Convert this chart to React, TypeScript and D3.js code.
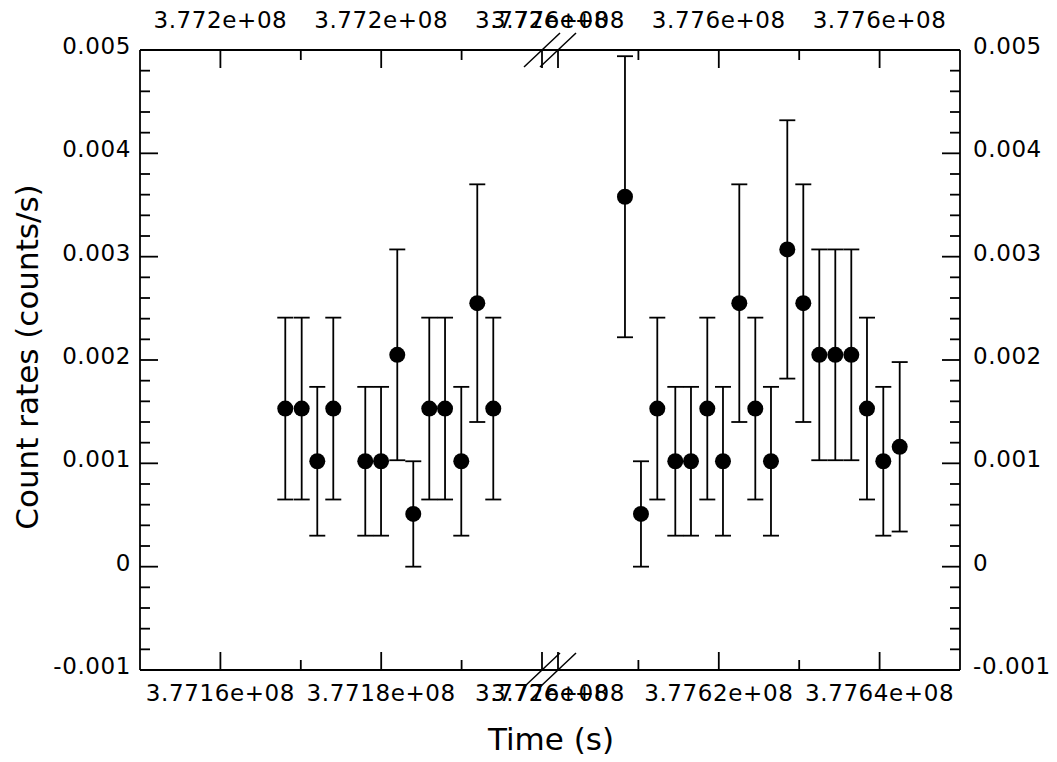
import React from "react";
import * as d3 from "d3";

const leftTimes = [377168070, 377170110, 377172050, 377174040, 377178020, 377179980, 377182000, 377183990, 377185980, 377187940, 377189960, 377191950, 377193940];
const leftRates = [0.00153, 0.00153, 0.00102, 0.00153, 0.00102, 0.00102, 0.00205, 0.00051, 0.00153, 0.00153, 0.00102, 0.00255, 0.00153];
const leftErrs = [0.00088, 0.00088, 0.00072, 0.00088, 0.00072, 0.00072, 0.00102, 0.00051, 0.00088, 0.00088, 0.00072, 0.00115, 0.00088];

const rightTimes = [377608330, 377610320, 377612350, 377614590, 377616540, 377618570, 377620520, 377622550, 377624540, 377626490, 377628520, 377630510, 377632500, 377634490, 377636480, 377638430, 377640460, 377642500];
const rightRates = [0.00358, 0.00051, 0.00153, 0.00102, 0.00102, 0.00153, 0.00102, 0.00255, 0.00153, 0.00102, 0.00307, 0.00255, 0.00205, 0.00205, 0.00205, 0.00153, 0.00102, 0.00116];
const rightErrs = [0.00136, 0.00051, 0.00088, 0.00072, 0.00072, 0.00088, 0.00072, 0.00115, 0.00088, 0.00072, 0.00125, 0.00115, 0.00102, 0.00102, 0.00102, 0.00088, 0.00072, 0.00082];

const yTicks = [-0.001, 0, 0.001, 0.002, 0.003, 0.004, 0.005];
const yTickLabels = ["-0.001", "0", "0.001", "0.002", "0.003", "0.004", "0.005"];

const leftDomain = [377150000, 377200000];
const rightDomain = [377600000, 377650000];
const leftMajor = [377160000, 377180000, 377200000];
const leftMinor = [377170000, 377190000];
const rightMajor = [377600000, 377620000, 377640000];
const rightMinor = [377610000, 377630000];
const leftBottomLabels = ["3.7716e+08", "3.7718e+08", "3.772e+08"];
const rightBottomLabels = ["3.776e+08", "3.7762e+08", "3.7764e+08"];
const leftTopLabels = ["3.772e+08", "3.772e+08", "3.772e+08"];
const rightTopLabels = ["3.776e+08", "3.776e+08", "3.776e+08"];

const X0 = 140, X1 = 960, Y0 = 50, Y1 = 670;
const BREAK_L = 542, BREAK_R = 558;
const FONT = "DejaVu Sans";
const TICK_FS = 23;
const TICK_LS = 0.6;
const TITLE_FS = 31;
const SW = 1.8;
const MAJ = 18, MIN = 10;

export default function App() {
  const y = d3.scaleLinear().domain([-0.001, 0.005]).range([Y1, Y0]);
  const xl = d3.scaleLinear().domain(leftDomain).range([X0, BREAK_L]);
  const xr = d3.scaleLinear().domain(rightDomain).range([BREAK_R, X1]);

  const yMinor: number[] = [];
  for (let i = 0; i <= 30; i++) {
    const v = -0.001 + i * 0.0002;
    if (i % 5 !== 0) yMinor.push(v);
  }

  const points = [
    ...leftTimes.map((t, i) => ({ x: xl(t), v: leftRates[i], e: leftErrs[i] })),
    ...rightTimes.map((t, i) => ({ x: xr(t), v: rightRates[i], e: rightErrs[i] })),
  ];

  const xMajorPos = [...leftMajor.map((t) => xl(t)), ...rightMajor.map((t) => xr(t))];
  const xMinorPos = [...leftMinor.map((t) => xl(t)), ...rightMinor.map((t) => xr(t))];
  const bottomLabels = [...leftBottomLabels, ...rightBottomLabels];
  const topLabels = [...leftTopLabels, ...rightTopLabels];

  const slash = (cx: number, cy: number) => (
    <line x1={cx - 18} y1={cy + 17} x2={cx + 18} y2={cy - 17} stroke="#000" strokeWidth={1.5} />
  );

  return (
    <svg width={1057} height={762} style={{ display: "block", position: "absolute", left: 0, top: 0 }} fontFamily={FONT}>
      <rect x={0} y={0} width={1057} height={762} fill="#fff" />
      <g stroke="#000" strokeWidth={SW} fill="none">
        <line x1={X0} y1={Y0} x2={X1} y2={Y0} />
        <line x1={X0} y1={Y1} x2={X1} y2={Y1} />
        <line x1={X0} y1={Y0} x2={X0} y2={Y1} />
        <line x1={X1} y1={Y0} x2={X1} y2={Y1} />
        {yTicks.map((v, i) => (
          <g key={"ym" + i}>
            <line x1={X0} x2={X0 + MAJ} y1={y(v)} y2={y(v)} />
            <line x1={X1} x2={X1 - MAJ} y1={y(v)} y2={y(v)} />
          </g>
        ))}
        {yMinor.map((v, i) => (
          <g key={"yn" + i}>
            <line x1={X0} x2={X0 + MIN} y1={y(v)} y2={y(v)} />
            <line x1={X1} x2={X1 - MIN} y1={y(v)} y2={y(v)} />
          </g>
        ))}
        {xMajorPos.map((p, i) => (
          <g key={"xm" + i}>
            <line x1={p} x2={p} y1={Y1} y2={Y1 - MAJ} />
            <line x1={p} x2={p} y1={Y0} y2={Y0 + MAJ} />
          </g>
        ))}
        {xMinorPos.map((p, i) => (
          <g key={"xn" + i}>
            <line x1={p} x2={p} y1={Y1} y2={Y1 - MIN} />
            <line x1={p} x2={p} y1={Y0} y2={Y0 + MIN} />
          </g>
        ))}
      </g>
      {slash(BREAK_L, Y0)}
      {slash(BREAK_R, Y0)}
      {slash(BREAK_L, Y1)}
      {slash(BREAK_R, Y1)}
      {yTicks.map((v, i) => (
        <g key={"yl" + i} fontSize={TICK_FS} fill="#000" letterSpacing={TICK_LS}>
          <text x={X0 - 9} y={y(v) + 4} textAnchor="end">{yTickLabels[i]}</text>
          <text x={X1 + 13} y={y(v) + 4} textAnchor="start">{yTickLabels[i]}</text>
        </g>
      ))}
      {xMajorPos.map((p, i) => (
        <g key={"xl" + i} fontSize={TICK_FS} fill="#000" letterSpacing={TICK_LS}>
          <text x={p} y={Y1 + 31} textAnchor="middle">{bottomLabels[i]}</text>
          <text x={p} y={Y0 - 22} textAnchor="middle">{topLabels[i]}</text>
        </g>
      ))}
      <g stroke="#000" strokeWidth={SW}>
        {points.map((d, i) => (
          <g key={"e" + i}>
            <line x1={d.x} x2={d.x} y1={y(d.v - d.e)} y2={y(d.v + d.e)} />
            <line x1={d.x - 8} x2={d.x + 8} y1={y(d.v - d.e)} y2={y(d.v - d.e)} />
            <line x1={d.x - 8} x2={d.x + 8} y1={y(d.v + d.e)} y2={y(d.v + d.e)} />
          </g>
        ))}
      </g>
      {points.map((d, i) => (
        <circle key={"c" + i} cx={d.x} cy={y(d.v)} r={8} fill="#000" />
      ))}
      <text x={551} y={750} textAnchor="middle" fontSize={TITLE_FS}>Time (s)</text>
      <text transform={`translate(38,357) rotate(-90)`} textAnchor="middle" fontSize={TITLE_FS}>Count rates (counts/s)</text>
    </svg>
  );
}
